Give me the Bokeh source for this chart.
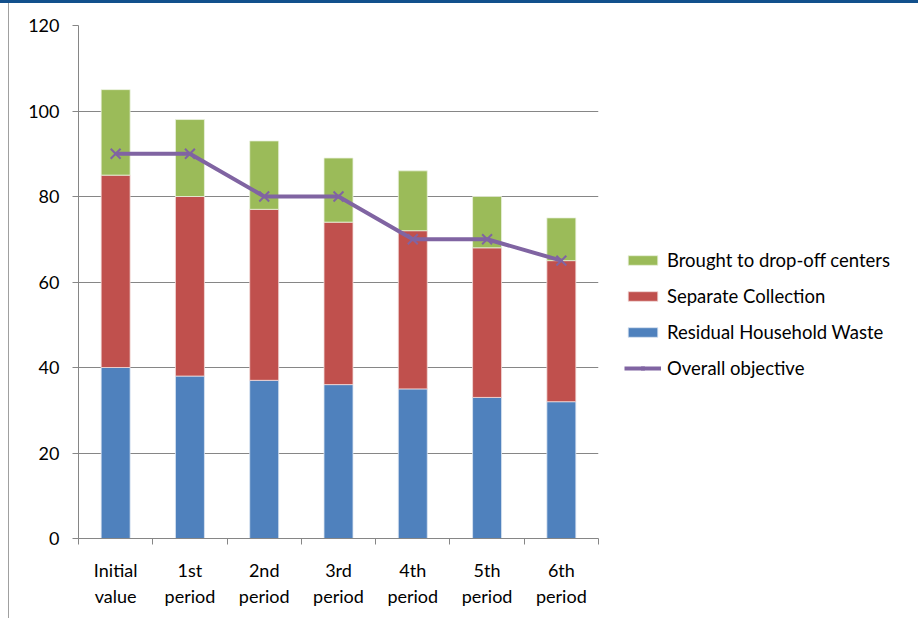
from bokeh.plotting import figure
from bokeh.models import Legend, LegendItem, FixedTicker, Range1d
from bokeh.embed import file_html
from bokeh.resources import INLINE

categories = ["Initial\nvalue", "1st\nperiod", "2nd\nperiod", "3rd\nperiod",
              "4th\nperiod", "5th\nperiod", "6th\nperiod"]
residual = [40, 38, 37, 36, 35, 33, 32]
separate = [45, 42, 40, 38, 37, 35, 33]
dropoff = [20, 18, 16, 15, 14, 12, 10]
objective = [90, 90, 80, 80, 70, 70, 65]
y_ticks = [0, 20, 40, 60, 80, 100, 120]

FONT = "Lato"
FS = "18px"
xs = [i + 0.5 for i in range(len(categories))]
bottoms2 = [r for r in residual]
bottoms3 = [r + s for r, s in zip(residual, separate)]
tops3 = [b + d for b, d in zip(bottoms3, dropoff)]

p = figure(frame_width=520, frame_height=513, output_backend="svg", toolbar_location=None,
           x_range=Range1d(0, len(categories)), y_range=Range1d(0, 120),
           min_border_left=78, min_border_top=22, min_border_right=316, min_border_bottom=80,
           background_fill_color="white", border_fill_color="white", border_fill_alpha=0)
p.styles = {"border-right": "1px solid #a0a0a0",
            "border-top": "3px solid #12508c",
            "background": "linear-gradient(to right, #ffffff 8px, #a0a0a0 8px, #a0a0a0 9px, #ffffff 9px)"}
p.outline_line_color = None

w = 0.39
r_blue = p.vbar(x=xs, bottom=0, top=residual, width=w, fill_color="#4F81BD",
                line_color="#dce6f2", line_width=0.8)
r_red = p.vbar(x=xs, bottom=bottoms2, top=bottoms3, width=w, fill_color="#C0504D",
               line_color="#f2dcdb", line_width=0.8)
r_green = p.vbar(x=xs, bottom=bottoms3, top=tops3, width=w, fill_color="#9BBB59",
                 line_color="#ebf1de", line_width=0.8)
r_line = p.line(x=xs, y=objective, line_color="#8064A2", line_width=4)
r_mark = p.scatter(x=xs, y=objective, marker="x", size=14, line_color="#8064A2", line_width=2)

# axes
p.xaxis.ticker = FixedTicker(ticks=xs, minor_ticks=list(range(len(categories) + 1)))
p.xaxis.major_label_overrides = {x: c for x, c in zip(xs, categories)}
p.xaxis.major_tick_line_color = None
p.xaxis.minor_tick_line_color = "#868686"
p.xaxis.minor_tick_out = 6
p.xaxis.minor_tick_in = 0
p.xaxis.axis_line_color = "#868686"
p.xaxis.major_label_text_font = FONT
p.xaxis.major_label_text_font_size = FS
p.xaxis.major_label_text_color = "#000000"
p.xaxis.major_label_standoff = 14

p.yaxis.ticker = FixedTicker(ticks=y_ticks)
p.yaxis.axis_line_color = "#868686"
p.yaxis.major_tick_line_color = "#868686"
p.yaxis.major_tick_out = 6
p.yaxis.major_tick_in = 0
p.yaxis.minor_tick_line_color = None
p.yaxis.major_label_text_font = FONT
p.yaxis.major_label_text_font_size = FS
p.yaxis.major_label_text_color = "#000000"
p.yaxis.major_label_standoff = 13

p.xgrid.grid_line_color = None
p.ygrid.grid_line_color = "#868686"
p.ygrid.grid_line_width = 1

legend = Legend(items=[
    LegendItem(label="Brought to drop-off centers", renderers=[r_green]),
    LegendItem(label="Separate Collection", renderers=[r_red]),
    LegendItem(label="Residual Household Waste", renderers=[r_blue]),
    LegendItem(label="Overall objective", renderers=[r_line, r_mark]),
], location=(26, 159))
legend.border_line_color = None
legend.background_fill_alpha = 0
legend.label_text_font = FONT
legend.label_text_font_size = "18.5px"
legend.label_text_color = "#000000"
legend.glyph_width = 37
legend.glyph_height = 12
legend.label_height = 20
legend.spacing = 14
legend.label_standoff = 6
legend.margin = 0
legend.padding = 0
p.add_layout(legend, "right")

open("out.html", "w").write(file_html(p, INLINE))
